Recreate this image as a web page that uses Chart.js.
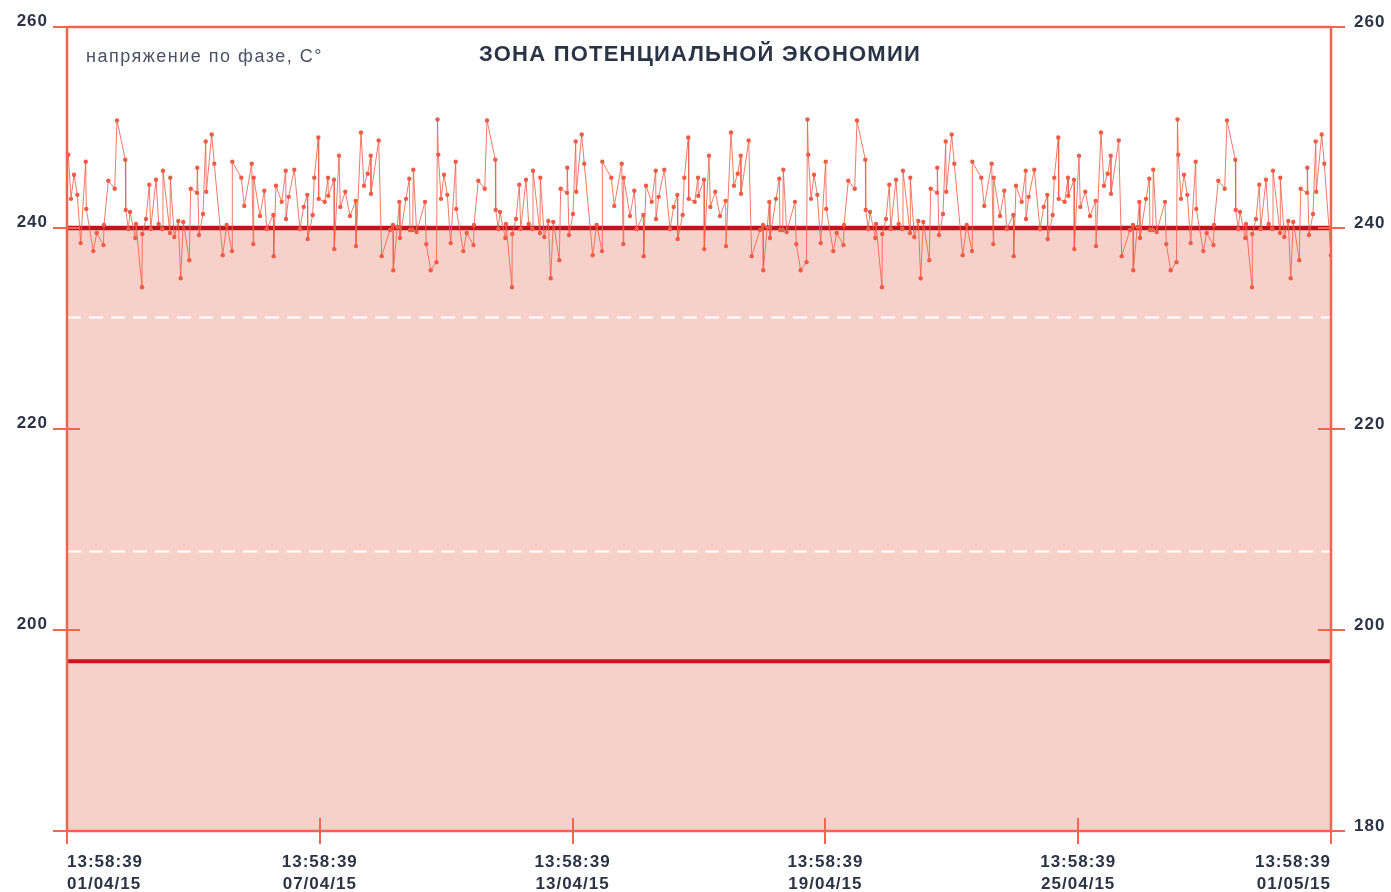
<!DOCTYPE html>
<html><head><meta charset="utf-8">
<script src="https://cdn.jsdelivr.net/npm/chart.js@4.4.1/dist/chart.umd.min.js"></script>
<style>html,body{margin:0;padding:0;background:#fff;overflow:hidden}#wrap{position:relative;width:1391px;height:892px}</style>
</head><body><div id="wrap"><canvas id="c" width="1391" height="892"></canvas></div>
<script>
const chartTitle = 'ЗОНА ПОТЕНЦИАЛЬНОЙ ЭКОНОМИИ';
const axisCaption = 'напряжение по фазе, C°';
const xTickValues = [0, 144, 288, 432, 576, 720];
const xTickLabels = [['13:58:39','01/04/15'],['13:58:39','07/04/15'],['13:58:39','13/04/15'],['13:58:39','19/04/15'],['13:58:39','25/04/15'],['13:58:39','01/05/15']];
const yTickValues = [180, 200, 220, 240, 260];
const leftTickLabels = ['', '200', '220', '240', '260'];
const rightTickLabels = ['180', '200', '220', '240', '260'];
const savingLimit = 240;
const lowerLimit = 196.9;
const dashedLevels = [231.1, 207.8];

// hours since 13:58:39 01/04/15
const sampleHours = [
0.74,2.28,3.99,5.87,7.80,10.65,10.99,14.98,16.92,20.79,
21.08,23.53,27.17,28.48,33.21,33.44,34.92,35.89,38.91,39.30,
42.72,42.89,45.00,46.88,47.68,50.70,52.23,54.28,54.68,58.67,
58.84,61.12,63.40,64.76,66.25,69.66,70.46,74.05,74.22,75.19,
77.47,79.01,79.35,82.42,83.90,88.69,90.97,93.99,94.16,99.28,
100.99,105.21,106.12,106.35,109.94,112.39,113.75,117.51,117.74,119.05,
122.30,124.58,124.75,126.28,129.47,132.72,134.83,136.88,137.11,139.96,
140.87,143.15,143.37,146.79,148.67,148.84,152.09,152.26,154.94,155.68,
158.53,161.20,164.45,164.62,167.47,169.18,171.28,172.99,173.16,177.55,
179.26,183.99,185.70,185.87,188.15,189.29,189.68,193.10,194.98,195.38,
196.92,197.26,199.19,203.92,204.66,207.16,210.47,211.04,
211.50,213.04,214.75,216.63,218.56,221.41,221.75,225.74,227.68,231.55,
231.84,234.29,237.93,239.24,243.97,244.20,245.68,246.65,249.67,250.06,
253.48,253.65,255.76,257.64,258.44,261.46,262.99,265.04,265.44,269.43,
269.60,271.88,274.16,275.52,277.01,280.42,281.22,284.81,284.98,285.95,
288.23,289.77,290.11,293.18,294.66,299.45,301.73,304.75,304.92,310.04,
311.75,315.97,316.88,317.11,320.70,323.15,324.51,328.27,328.50,329.81,
333.06,335.34,335.51,337.04,340.23,343.48,345.59,347.64,347.87,350.72,
351.63,353.91,354.13,357.55,359.43,359.60,362.85,363.02,365.70,366.44,
369.29,371.96,375.21,375.38,378.23,379.94,382.04,383.75,383.92,388.31,
390.02,394.75,396.46,396.63,398.91,400.05,400.44,403.86,405.74,406.14,
407.68,408.02,409.95,414.68,415.42,417.92,421.23,421.80,
422.26,423.80,425.51,427.39,429.32,432.17,432.51,436.50,438.44,442.31,
442.60,445.05,448.69,450.00,454.73,454.96,456.44,457.41,460.43,460.82,
464.24,464.41,466.52,468.40,469.20,472.22,473.75,475.80,476.20,480.19,
480.36,482.64,484.92,486.28,487.77,491.18,491.98,495.57,495.74,496.71,
498.99,500.53,500.87,503.94,505.42,510.21,512.49,515.51,515.68,520.80,
522.51,526.73,527.64,527.87,531.46,533.91,535.27,539.03,539.26,540.57,
543.82,546.10,546.27,547.80,550.99,554.24,556.35,558.40,558.63,561.48,
562.39,564.67,564.89,568.31,570.19,570.36,573.61,573.78,576.46,577.20,
580.05,582.72,585.97,586.14,588.99,590.70,592.80,594.51,594.68,599.07,
600.78,605.51,607.22,607.39,609.67,610.81,611.20,614.62,616.50,616.90,
618.44,618.78,620.71,625.44,626.18,628.68,631.99,632.56,
633.02,634.56,636.27,638.15,640.08,642.93,643.27,647.26,649.20,653.07,
653.36,655.81,659.45,660.76,665.49,665.72,667.20,668.17,671.19,671.58,
675.00,675.17,677.28,679.16,679.96,682.98,684.51,686.56,686.96,690.95,
691.12,693.40,695.68,697.04,698.53,701.94,702.74,706.33,706.50,707.47,
709.75,711.29,711.63,714.70,716.18,720.00
];

const phaseVoltage = [
247.3,242.9,245.3,243.3,238.5,246.6,241.9,237.7,239.5,238.3,
240.3,244.7,243.9,250.7,246.8,241.8,239.9,241.6,239.0,240.4,
234.1,239.4,240.9,244.3,239.9,244.8,240.4,239.9,245.7,239.5,
245.0,239.1,240.7,235.0,240.6,236.8,243.9,243.5,246.0,239.3,
241.4,248.6,243.6,249.3,246.4,237.3,240.3,237.7,246.6,245.0,
242.2,246.4,238.4,245.0,241.2,243.7,239.9,241.3,237.2,244.2,
242.6,245.7,240.9,243.1,245.8,239.9,242.1,243.3,238.9,241.3,
245.0,249.0,242.9,242.6,245.0,243.2,244.8,237.9,247.2,242.1,
243.6,241.2,242.7,238.2,249.5,244.2,245.4,247.2,243.4,248.7,
237.2,239.8,240.3,235.8,240.1,242.6,239.0,242.9,244.9,239.8,
239.8,245.8,239.6,242.6,238.4,235.8,236.6,250.8,
247.3,242.9,245.3,243.3,238.5,246.6,241.9,237.7,239.5,238.3,
240.3,244.7,243.9,250.7,246.8,241.8,239.9,241.6,239.0,240.4,
234.1,239.4,240.9,244.3,239.9,244.8,240.4,239.9,245.7,239.5,
245.0,239.1,240.7,235.0,240.6,236.8,243.9,243.5,246.0,239.3,
241.4,248.6,243.6,249.3,246.4,237.3,240.3,237.7,246.6,245.0,
242.2,246.4,238.4,245.0,241.2,243.7,239.9,241.3,237.2,244.2,
242.6,245.7,240.9,243.1,245.8,239.9,242.1,243.3,238.9,241.3,
245.0,249.0,242.9,242.6,245.0,243.2,244.8,237.9,247.2,242.1,
243.6,241.2,242.7,238.2,249.5,244.2,245.4,247.2,243.4,248.7,
237.2,239.8,240.3,235.8,240.1,242.6,239.0,242.9,244.9,239.8,
239.8,245.8,239.6,242.6,238.4,235.8,236.6,250.8,
247.3,242.9,245.3,243.3,238.5,246.6,241.9,237.7,239.5,238.3,
240.3,244.7,243.9,250.7,246.8,241.8,239.9,241.6,239.0,240.4,
234.1,239.4,240.9,244.3,239.9,244.8,240.4,239.9,245.7,239.5,
245.0,239.1,240.7,235.0,240.6,236.8,243.9,243.5,246.0,239.3,
241.4,248.6,243.6,249.3,246.4,237.3,240.3,237.7,246.6,245.0,
242.2,246.4,238.4,245.0,241.2,243.7,239.9,241.3,237.2,244.2,
242.6,245.7,240.9,243.1,245.8,239.9,242.1,243.3,238.9,241.3,
245.0,249.0,242.9,242.6,245.0,243.2,244.8,237.9,247.2,242.1,
243.6,241.2,242.7,238.2,249.5,244.2,245.4,247.2,243.4,248.7,
237.2,239.8,240.3,235.8,240.1,242.6,239.0,242.9,244.9,239.8,
239.8,245.8,239.6,242.6,238.4,235.8,236.6,250.8,
247.3,242.9,245.3,243.3,238.5,246.6,241.9,237.7,239.5,238.3,
240.3,244.7,243.9,250.7,246.8,241.8,239.9,241.6,239.0,240.4,
234.1,239.4,240.9,244.3,239.9,244.8,240.4,239.9,245.7,239.5,
245.0,239.1,240.7,235.0,240.6,236.8,243.9,243.5,246.0,239.3,
241.4,248.6,243.6,249.3,246.4,237.3
];

const FONT = "'Liberation Sans', Arial, Helvetica, sans-serif";
const textColor = '#2b3346';
const frameColor = '#ee6650';
const spanX = [xTickValues[0], xTickValues[xTickValues.length - 1]];
const levelLine = v => spanX.map(x => ({x: x, y: v}));

function fitText(ctx, text, font, width) {
  ctx.font = font;
  ctx.letterSpacing = '0px';
  const w = ctx.measureText(text).width;
  ctx.letterSpacing = ((width - w) / text.length).toFixed(2) + 'px';
}

const framePlugin = {
  id: 'frame',
  beforeDraw(chart) { chart.ctx.letterSpacing = '1px'; },
  afterDraw(chart) {
    const {ctx, chartArea: a, scales} = chart;
    ctx.save();
    ctx.strokeStyle = frameColor;
    ctx.lineWidth = 2.5;
    ctx.beginPath();
    ctx.moveTo(a.left, a.top); ctx.lineTo(a.right, a.top);
    ctx.moveTo(a.left, a.top); ctx.lineTo(a.left, a.bottom);
    ctx.moveTo(a.right, a.top); ctx.lineTo(a.right, a.bottom);
    ctx.moveTo(a.left, a.bottom); ctx.lineTo(a.right, a.bottom);
    ctx.stroke();
    ctx.lineWidth = 2;
    ctx.beginPath();
    yTickValues.forEach(v => {
      const y = Math.round(scales.y.getPixelForValue(v));
      ctx.moveTo(a.left - 14, y); ctx.lineTo(a.left + 13, y);
      ctx.moveTo(a.right - 13, y); ctx.lineTo(a.right + 14, y);
    });
    xTickValues.forEach(v => {
      const x = Math.round(scales.x.getPixelForValue(v));
      ctx.moveTo(x, a.bottom - 13); ctx.lineTo(x, a.bottom + 13);
    });
    ctx.stroke();

    ctx.fillStyle = textColor;
    ctx.textBaseline = 'middle';
    ctx.textAlign = 'center';
    fitText(ctx, chartTitle, 'bold 22px ' + FONT, 442);
    ctx.fillText(chartTitle, 700, 55);
    ctx.fillStyle = '#4b5264';
    ctx.textAlign = 'left';
    fitText(ctx, axisCaption, '18px ' + FONT, 237);
    ctx.fillText(axisCaption, 86, 57);
    ctx.restore();
  }
};

const tickFont = {family: FONT, size: 17, weight: 'bold', lineHeight: 1.25};
const setYTicks = s => { s.ticks = yTickValues.map(v => ({value: v})); };
const fitY = w => s => { s.width = w; s.paddingTop = 0; s.paddingBottom = 0; };

new Chart(document.getElementById('c'), {
  type: 'line',
  data: {
    datasets: [
      {
        label: 'voltage',
        data: sampleHours.map((h, i) => ({x: h, y: phaseVoltage[i]})),
        borderColor: 'rgba(239,98,78,0.85)',
        borderWidth: 1,
        pointRadius: 2.2,
        pointBorderWidth: 0,
        pointBackgroundColor: '#ee5c46',
        fill: false,
        tension: 0
      },
      { data: levelLine(savingLimit), borderColor: '#bf141e', borderWidth: 4.5, pointRadius: 0, fill: false },
      { data: levelLine(lowerLimit), borderColor: '#c8161f', borderWidth: 4, pointRadius: 0, fill: false },
      { data: levelLine(dashedLevels[0]), borderColor: '#ffffff', borderWidth: 2, borderDash: [14, 8], pointRadius: 0, fill: false },
      { data: levelLine(dashedLevels[1]), borderColor: '#ffffff', borderWidth: 2, borderDash: [14, 8], pointRadius: 0, fill: false },
      { data: levelLine(savingLimit), borderWidth: 0, pointRadius: 0, fill: 'start', backgroundColor: '#f8d0ca' }
    ]
  },
  options: {
    responsive: false,
    animation: false,
    devicePixelRatio: 1,
    layout: {padding: {top: 27, left: 0, right: 0, bottom: 0}},
    plugins: {legend: {display: false}, tooltip: {enabled: false}},
    scales: {
      x: {
        type: 'linear', min: spanX[0], max: spanX[1],
        afterBuildTicks: s => { s.ticks = xTickValues.map(v => ({value: v})); },
        afterFit: s => { s.height = 61; s.paddingLeft = 0; s.paddingRight = 0; },
        grid: {display: false, drawTicks: false},
        border: {display: true, color: frameColor, width: 2},
        ticks: {align: 'inner', padding: 21, maxRotation: 0, autoSkip: false, color: textColor, font: tickFont,
          callback: (v, i) => xTickLabels[i]}
      },
      y: {
        position: 'left', min: 180, max: 260,
        afterBuildTicks: setYTicks,
        afterFit: fitY(67),
        grid: {display: false, drawTicks: false},
        border: {display: true, color: frameColor, width: 2},
        ticks: {padding: 19, labelOffset: -6, color: textColor, font: tickFont, callback: (v, i) => leftTickLabels[i]}
      },
      y2: {
        position: 'right', min: 180, max: 260,
        afterBuildTicks: setYTicks,
        afterFit: fitY(60),
        grid: {display: false, drawTicks: false},
        border: {display: true, color: frameColor, width: 2},
        ticks: {padding: 23, labelOffset: -5, color: textColor, font: tickFont, callback: (v, i) => rightTickLabels[i]}
      }
    }
  },
  plugins: [framePlugin]
});
</script></body></html>
